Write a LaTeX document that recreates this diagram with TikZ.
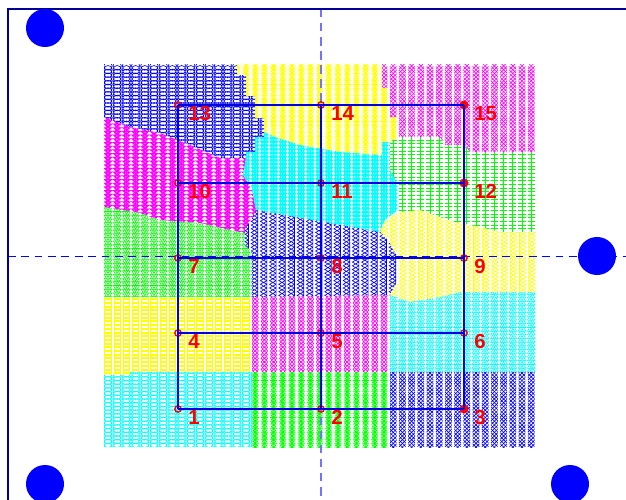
\documentclass[tikz,border=0pt]{standalone}
\usepackage{fontspec}
\setmainfont{Liberation Sans}
\usepackage{tikz}
\usetikzlibrary{calc}
\definecolor{mblue}{rgb}{0,0,1}
\definecolor{mcyan}{rgb}{0,1,1}
\definecolor{mgreen}{rgb}{0,1,0}
\definecolor{myellow}{rgb}{1,1,0}
\definecolor{mmagenta}{rgb}{1,0,1}
\definecolor{mred}{rgb}{1,0,0}
\definecolor{navy}{rgb}{0,0,0.6}
\definecolor{paleblue}{rgb}{0.45,0.45,1}
\tikzset{
    site/.style={
    circle,draw=mred,line width=1pt,inner sep=0pt,minimum size=4.5pt
    },
    fullsite/.style={
    circle,draw=mred,fill=mred,inner sep=0pt,minimum size=6pt
    },
    num/.style={
    text=mred,font=\bfseries\fontsize{14.5}{16}\selectfont,inner sep=0pt,anchor=base west
    },
    link/.style={
    draw=mblue!90!black,line width=0.8pt
    },
    base/.style={
    circle,fill=mblue,inner sep=0pt,minimum size=0.95cm
    },
    frame/.style={
    draw=navy,line width=0.9pt
    },
    xaxis/.style={
    draw=mblue,dash pattern=on 5.5pt off 4pt,line width=0.6pt
    },
    yaxis/.style={
    draw=paleblue,dash pattern=on 6pt off 4pt,line width=0.9pt
    },
    mk/.style={
    line width=0.45pt
    },
}
% one marker at (\px,\py)
\newcommand{\mkO}{(\px,\py) circle[radius=4.2]}
\newcommand{\mkX}{(\px,\py) ++(-3.3,-3.3) -- ++(6.6,6.6) ++(-6.6,0) -- ++(6.6,-6.6)}
\newcommand{\mkP}{(\px,\py) ++(-3.6,0) -- ++(7.2,0) ++(-3.6,-3.6) -- ++(0,7.2)}
\newcommand{\mkA}{(\px,\py) ++(-3.6,0) -- ++(7.2,0) ++(-3.6,-3.6) -- ++(0,7.2) (\px,\py) ++(-2.6,-2.6) -- ++(5.2,5.2) ++(-5.2,0) -- ++(5.2,-5.2)}
\newcommand{\mkS}{(\px,\py) ++(-3.2,-3.2) rectangle ++(6.4,6.4)}
\newcommand{\mkD}{(\px,\py) ++(0,-4.2) -- ++(3.2,4.2) -- ++(-3.2,4.2) -- ++(-3.2,-4.2) -- cycle}
\newcommand{\mkU}{(\px,\py) ++(0,-4) -- ++(3.8,6.5) -- ++(-7.6,0) -- cycle}
\newcommand{\mkV}{(\px,\py) ++(0,4) -- ++(3.8,-6.5) -- ++(-7.6,0) -- cycle}
\newcommand{\mkL}{(\px,\py) ++(-4,0) -- ++(6.5,-3.8) -- ++(0,7.6) -- cycle}
\newcommand{\mkR}{(\px,\py) ++(4,0) -- ++(-6.5,-3.8) -- ++(0,7.6) -- cycle}
\newcommand{\mkPent}{(\px,\py) +(270:4.3) -- +(54:4.3) -- +(198:4.3) -- +(342:4.3) -- +(126:4.3) -- cycle}
\newcommand{\mkHex}{(\px,\py) +(270:4.3) -- +(30:4.3) -- +(150:4.3) -- cycle (\px,\py) +(90:4.3) -- +(210:4.3) -- +(330:4.3) -- cycle}
% colour, marker, outline, columns, rows
\newcommand{\markregion}[7]{
  \begin{scope}
    \clip #3;
    \foreach \i [evaluate=\i as \px using 108+9.2*\i] in {#4,...,#5}
      \draw[mk,draw=#1] \foreach \j [evaluate=\j as \py using 66+3.7*\j] in {#6,...,#7} {#2};
  \end{scope}
}

\begin{document}
\begin{tikzpicture}[x=0.025cm, y=-0.025cm]
   \useasboundingbox (0,0) rectangle (626,500);

   % regions, top row first
   \markregion{mblue}{\mkO}{(104,64) -- (237,64) -- (237,75) -- (246,75) -- (246,96) -- (255,96) -- (255,118) -- (264,118) -- (264,137) -- (255,137) -- (255,152) -- (246,152) -- (246,158) -- (220,158) -- (190,145) -- (160,133) -- (130,127) -- (104,117) -- cycle}{0}{17}{0}{26}
   \markregion{myellow}{\mkA}{(237,64) -- (382,64) -- (382,88) -- (390,88) -- (390,117) -- (398,117) -- (398,137) -- (390,142) -- (382,142) -- (382,155) -- (340,152) -- (300,145) -- (275,137) -- (264,132) -- (264,118) -- (255,118) -- (255,96) -- (246,96) -- (246,75) -- (237,75) -- cycle}{13}{32}{0}{25}
   \markregion{mmagenta}{\mkX}{(382,64) -- (536,64) -- (536,152) -- (470,152) -- (465,145) -- (445,145) -- (440,137) -- (398,137) -- (398,117) -- (390,117) -- (390,88) -- (382,88) -- cycle}{29}{46}{0}{24}
   \markregion{mmagenta}{\mkPent}{(104,117) -- (130,127) -- (160,133) -- (190,145) -- (220,158) -- (246,158) -- (243,175) -- (252,190) -- (256,210) -- (250,222) -- (245,228) -- (245,233) -- (230,230) -- (200,223) -- (160,220) -- (140,213) -- (104,207) -- cycle}{0}{17}{13}{46}
   \markregion{mcyan}{\mkHex}{(264,132) -- (275,137) -- (300,145) -- (340,152) -- (382,155) -- (382,142) -- (390,142) -- (390,170) -- (398,185) -- (398,210) -- (385,220) -- (380,232) -- (256,210) -- (252,190) -- (243,175) -- (246,158) -- (246,152) -- (255,152) -- (255,137) -- (264,137) -- cycle}{14}{32}{17}{46}
   \markregion{mgreen}{\mkP}{(390,142) -- (398,137) -- (440,137) -- (445,145) -- (465,145) -- (470,152) -- (536,152) -- (536,232) -- (500,232) -- (480,227) -- (455,222) -- (440,217) -- (420,210) -- (400,212) -- (398,210) -- (398,185) -- (390,170) -- cycle}{30}{46}{19}{46}
   \markregion{mgreen}{\mkV}{(104,207) -- (140,213) -- (160,220) -- (200,223) -- (230,230) -- (245,233) -- (245,245) -- (252,252) -- (252,297) -- (104,297) -- cycle}{0}{16}{37}{64}
   \markregion{mblue}{\mkL}{(256,210) -- (380,232) -- (388,240) -- (398,258) -- (398,280) -- (390,295) -- (252,297) -- (252,252) -- (245,245) -- (245,228) -- (250,222) -- cycle}{14}{32}{37}{64}
   \markregion{myellow}{\mkR}{(385,220) -- (400,212) -- (420,210) -- (440,217) -- (455,222) -- (480,227) -- (500,232) -- (536,232) -- (536,292) -- (460,292) -- (440,297) -- (410,302) -- (390,295) -- (398,280) -- (398,258) -- (388,240) -- (380,232) -- cycle}{29}{46}{38}{65}
   \markregion{myellow}{\mkS}{(104,297) -- (252,297) -- (252,372) -- (130,372) -- (130,375) -- (104,375) -- cycle}{0}{16}{61}{84}
   \markregion{mmagenta}{\mkD}{(252,297) -- (390,295) -- (390,372) -- (252,372) -- cycle}{15}{31}{61}{84}
   \markregion{mcyan}{\mkU}{(390,295) -- (410,302) -- (440,297) -- (460,292) -- (536,292) -- (536,372) -- (390,372) -- cycle}{30}{46}{60}{84}
   \markregion{mcyan}{\mkO}{(104,375) -- (130,375) -- (130,372) -- (252,372) -- (252,447) -- (104,447) -- cycle}{0}{16}{82}{103}
   \markregion{mgreen}{\mkA}{(252,372) -- (390,372) -- (390,447) -- (252,447) -- cycle}{15}{31}{82}{103}
   \markregion{mblue}{\mkX}{(390,372) -- (536,372) -- (536,447) -- (390,447) -- cycle}{30}{46}{82}{103}

   % axes and frame
   \draw[xaxis] (8,256) -- (626,256);
   \draw[yaxis] (321,9) -- (321,500);
   \draw[frame] (626,9) -- (8,9) -- (8,500);

   % base stations
   \node[base] (b1) at (45,28) {};
   \node[base] (b2) at (597,256) {};
   \node[base] (b3) at (45,484) {};
   \node[base] (b4) at (570,484) {};

   % sites
   \node[site] (n1) at (178,409) {};
   \node[site] (n2) at (321,409) {};
   \node[fullsite] (n3) at (464,409) {};
   \node[site] (n4) at (178,333) {};
   \node[site] (n5) at (321,333) {};
   \node[site] (n6) at (464,333) {};
   \node[site] (n7) at (178,258) {};
   \node[site] (n8) at (321,258) {};
   \node[site] (n9) at (464,258) {};
   \node[site] (n10) at (178,183) {};
   \node[site] (n11) at (321,183) {};
   \node[fullsite] (n12) at (464,183) {};
   \node[site] (n13) at (178,105) {};
   \node[site] (n14) at (321,105) {};
   \node[fullsite] (n15) at (464,105) {};

  \path[link]
    (n1.center) edge (n2.center)
    (n2.center) edge (n3.center)
    (n4.center) edge (n5.center)
    (n5.center) edge (n6.center)
    (n7.center) edge (n8.center)
    (n8.center) edge (n9.center)
    (n10.center) edge (n11.center)
    (n11.center) edge (n12.center)
    (n13.center) edge (n14.center)
    (n14.center) edge (n15.center)
    (n1.center) edge (n4.center)
    (n4.center) edge (n7.center)
    (n7.center) edge (n10.center)
    (n10.center) edge (n13.center)
    (n2.center) edge (n5.center)
    (n5.center) edge (n8.center)
    (n8.center) edge (n11.center)
    (n11.center) edge (n14.center)
    (n3.center) edge (n6.center)
    (n6.center) edge (n9.center)
    (n9.center) edge (n12.center)
    (n12.center) edge (n15.center);

   \node[num] (t1) at ([shift={(10,15.5)}]n1.center) {1};
   \node[num] (t2) at ([shift={(10,15.5)}]n2.center) {2};
   \node[num] (t3) at ([shift={(10,15.5)}]n3.center) {3};
   \node[num] (t4) at ([shift={(10,15.5)}]n4.center) {4};
   \node[num] (t5) at ([shift={(10,15.5)}]n5.center) {5};
   \node[num] (t6) at ([shift={(10,15.5)}]n6.center) {6};
   \node[num] (t7) at ([shift={(10,15.5)}]n7.center) {7};
   \node[num] (t8) at ([shift={(10,15.5)}]n8.center) {8};
   \node[num] (t9) at ([shift={(10,15.5)}]n9.center) {9};
   \node[num] (t10) at ([shift={(10,15.5)}]n10.center) {10};
   \node[num] (t11) at ([shift={(10,15.5)}]n11.center) {11};
   \node[num] (t12) at ([shift={(10,15.5)}]n12.center) {12};
   \node[num] (t13) at ([shift={(10,15.5)}]n13.center) {13};
   \node[num] (t14) at ([shift={(10,15.5)}]n14.center) {14};
   \node[num] (t15) at ([shift={(10,15.5)}]n15.center) {15};
\end{tikzpicture}
\end{document}
